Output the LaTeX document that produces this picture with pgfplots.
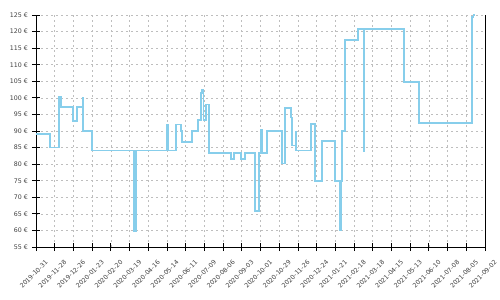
\documentclass[border=0pt]{standalone}
\usepackage{pgfplots}
\pgfplotsset{compat=1.18}
\usepackage{fontspec}
\setmainfont{DejaVu Sans}
\definecolor{line}{RGB}{135,206,235}
\definecolor{gridc}{RGB}{190,190,190}
\begin{document}
\begin{tikzpicture}[x=1bp,y=1bp]
\begin{axis}[
  at={(0,0)}, anchor=origin,
  scale only axis, width=449bp, height=232bp,
  xmin=0, xmax=672, ymin=55, ymax=125,
  axis x line*=bottom, axis y line*=left,
  xtick={0,28,...,672},
  xticklabels={2019-10-31,2019-11-28,2019-12-26,2020-01-23,2020-02-20,2020-03-19,2020-04-16,2020-05-14,2020-06-11,2020-07-09,2020-08-06,2020-09-03,2020-10-01,2020-10-29,2020-11-26,2020-12-24,2021-01-21,2021-02-18,2021-03-18,2021-04-15,2021-05-13,2021-06-10,2021-07-08,2021-08-05,2021-09-02},
  ytick={55,60,...,125},
  yticklabels={55 €,60 €,65 €,70 €,75 €,80 €,85 €,90 €,95 €,100 €,105 €,110 €,115 €,120 €,125 €},
  /pgf/number format/assume math mode=true,
  tick label style={font=\fontsize{6.3}{7}\selectfont, text=black!75},
  x tick label style={xshift=9bp, yshift=-6bp, rotate=45, anchor=north east, inner sep=1bp},
  y tick label style={inner sep=1bp},
  xticklabel shift=1bp, yticklabel shift=3bp,
  tick align=center, major tick length=8bp,
  tick style={black, line width=0.8bp},
  axis line style={black, line width=0.9bp},
  grid=major,
  major grid style={gridc, dash pattern=on 2bp off 3bp, line width=0.6bp},
  clip=false,
]
\addplot[const plot, color=line, line width=1.7bp, mark=none] coordinates {
(0,89.2) (21,85) (34.9,100.2) (37.5,97.3) (55.8,93) (60.9,97.3) (69.9,99.9) (70.6,90.1)
(83.4,84.1) (146.7,59.9) (149.7,84.1) (196.5,91.8) (197.3,84.1) (209.1,92) (217,90)
(218.5,86.6) (233.5,90.1) (242.5,93.3) (247,101.5) (248.5,102.5) (250.7,93.3) (254.4,98)
(259.4,83.3) (291.9,81.6) (296.3,83.3) (306.8,81.6) (313.3,83.3) (327.8,65.9) (333.3,83.3)
(336.8,90.3) (337.8,83.3) (345.3,90) (368.6,80.2) (372.7,97) (381.7,94.1) (383.6,85.6)
(388.7,89.8) (389.4,84.1) (411.6,92.2) (417.2,75) (428.1,87) (447.5,75) (455,60.1)
(456,75) (458,90.1) (462.5,117.5) (481.5,120.8) (490.5,84) (491.5,120.8) (550.8,104.7)
(573.7,92.5) (652.5,124.5) (655,125) (655.5,125)
};
\draw[black, line width=0.9bp] (rel axis cs:1,0) -- (rel axis cs:1,1);
\end{axis}
\useasboundingbox (-36bp,-53bp) rectangle (464bp,247bp);
\end{tikzpicture}
\end{document}
